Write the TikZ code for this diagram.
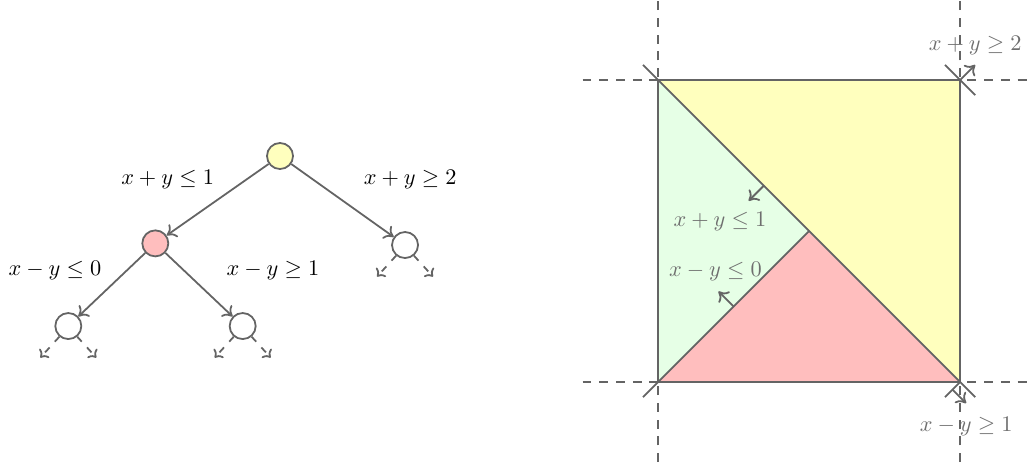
\documentclass[tikz,border=0pt]{standalone}
\usepackage{amsmath,amssymb}
\usepackage{xcolor}
\usepackage{tikz}
\usetikzlibrary{positioning,arrows.meta}
\definecolor{linegray}{RGB}{100,100,100}
\definecolor{textgray}{RGB}{110,110,110}
\definecolor{yellowfill}{RGB}{255,255,190}
\definecolor{redfill}{RGB}{255,190,190}
\definecolor{greenfill}{RGB}{230,255,230}

\begin{document}
\begin{tikzpicture}[
  vert/.style={circle, draw=linegray, thick, minimum size=0.41cm,
    inner sep=0pt},
  branch/.style={thick, draw=linegray, -{To[length=4pt,width=7pt]}},
  stub/.style={thick, draw=linegray, dash pattern=on 3pt off 3.5pt,
    -{To[length=3pt,width=6pt]}},
  cond/.style={font=\normalsize, inner sep=1pt},
  guide/.style={thick, draw=linegray, dash pattern=on 4pt off 3.5pt},
  cut/.style={thick, draw=linegray},
  normal/.style={thick, draw=linegray, -{To[length=4pt,width=7pt]}},
  glabel/.style={text=textgray, inner sep=1pt},
]
  \useasboundingbox (0,0) rectangle (16.175,7.277);

  % Branching tree
  \node[vert, fill=yellowfill] (root) at (4.41, 4.82) {};
  \node[vert, fill=redfill] (left) at (2.446, 3.444) {};
  \node[vert] (right) at (6.379, 3.418) {};
  \node[vert] (leftleft) at (1.076, 2.142) {};
  \node[vert] (leftright) at (3.822, 2.142) {};

  \draw[branch] (root) -- (left);
  \draw[branch] (root) -- (right);
  \draw[branch] (left) -- (leftleft);
  \draw[branch] (left) -- (leftright);

  \node[cond] (c1) at (2.64, 4.457) {$x+y\leq 1$};
  \node[cond] (c2) at (6.46, 4.457) {$x+y\geq 2$};
  \node[cond] (c3) at (0.866, 3.013) {$x-y\leq 0$};
  \node[cond] (c4) at (4.30, 3.013) {$x-y\geq 1$};

  % Unexplored children
  \foreach \v in {right, leftleft, leftright} {
    \coordinate (\v-sw) at ([shift={(-0.30cm,-0.33cm)}]\v.-130);
    \coordinate (\v-se) at ([shift={(0.30cm,-0.33cm)}]\v.-50);
    \draw[stub] (\v.-130) -- (\v-sw);
    \draw[stub] (\v.-50) -- (\v-se);
  }

  % Feasible region and cuts
  \begin{scope}[shift={(10.364,1.26)}, scale=4.757]
    \coordinate (o) at (0,0);
    \coordinate (a) at (1,0);
    \coordinate (b) at (1,1);
    \coordinate (c) at (0,1);
    \coordinate (m) at (0.5,0.5);

    \fill[greenfill] (o) -- (c) -- (m) -- cycle;
    \fill[redfill] (o) -- (a) -- (m) -- cycle;
    \fill[yellowfill] (c) -- (b) -- (a) -- cycle;

    \draw[guide] (-0.25,0) -- (1.22,0);
    \draw[guide] (-0.25,1) -- (1.22,1);
    \draw[guide] (0,-0.265) -- (0,1.265);
    \draw[guide] (1,-0.265) -- (1,1.265);

    \draw[cut] (o) rectangle (b);
    \draw[cut] (-0.05,1.05) -- (1.05,-0.05);
    \draw[cut] (-0.05,-0.05) -- (m);
    \draw[cut] (0.95,1.05) -- (1.05,0.95);
    \draw[cut] (0.95,-0.05) -- (a);

    \draw[normal] (0.35,0.65) -- (0.30,0.60);
    \draw[normal] (0.25,0.25) -- (0.20,0.30);
    \draw[normal] (b) -- (1.05,1.05);
    \draw[normal] (0.975,-0.025) -- (1.02,-0.07);

    \node[glabel] (l1) at (0.205,0.53) {$x+y\leq 1$};
    \node[glabel] (l2) at (0.19,0.365) {$x-y\leq 0$};
    \node[glabel] (l3) at (1.05,1.115) {$x+y\geq 2$};
    \node[glabel] (l4) at (1.02,-0.146) {$x-y\geq 1$};
  \end{scope}
\end{tikzpicture}
\end{document}
